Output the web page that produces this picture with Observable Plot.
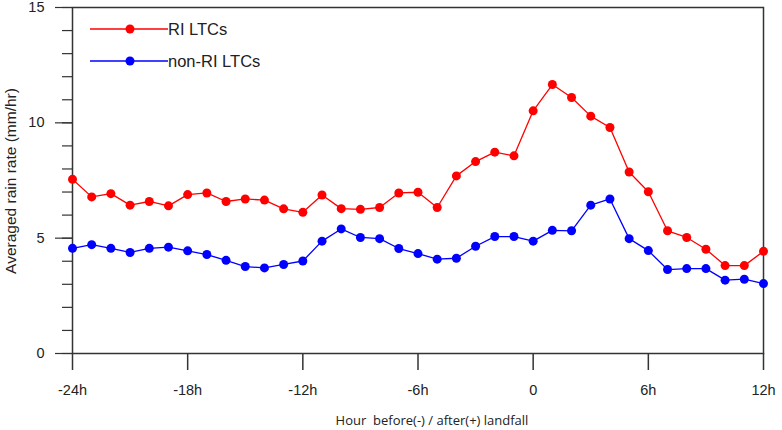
<!DOCTYPE html>
<html>
<head>
<meta charset="utf-8">
<script src="https://cdn.jsdelivr.net/npm/d3@7"></script>
<script src="https://cdn.jsdelivr.net/npm/@observablehq/plot@0.6"></script>
<style>
  html, body { margin: 0; padding: 0; background: #fff; }
  #chart svg { display: block; }
</style>
</head>
<body>
<div id="chart"></div>
<script>
const hours = [-24,-23,-22,-21,-20,-19,-18,-17,-16,-15,-14,-13,-12,-11,-10,-9,-8,-7,-6,-5,-4,-3,-2,-1,0,1,2,3,4,5,6,7,8,9,10,11,12];
const riLTCs = [7.55,6.79,6.93,6.43,6.59,6.40,6.89,6.96,6.59,6.70,6.65,6.27,6.12,6.87,6.28,6.25,6.33,6.96,6.99,6.33,7.70,8.32,8.73,8.57,10.52,11.66,11.10,10.29,9.80,7.87,7.01,5.32,5.03,4.52,3.81,3.81,4.43];
const nonRiLTCs = [4.56,4.72,4.56,4.38,4.56,4.61,4.45,4.29,4.04,3.77,3.71,3.86,4.01,4.87,5.40,5.03,4.98,4.55,4.33,4.09,4.13,4.65,5.07,5.07,4.87,5.34,5.32,6.43,6.70,4.98,4.46,3.64,3.68,3.68,3.18,3.22,3.03];
const xTicks = [-24,-18,-12,-6,0,6,12];
const xTickLabels = ["-24h","-18h","-12h","-6h","0","6h","12h"];
const yMajorTicks = [0,5,10,15];
const yMinorTicks = [0,1,2,3,4,5,6,7,8,9,10,11,12,13,14,15];
const seriesNames = ["RI LTCs","non-RI LTCs"];
const seriesColors = ["#ff0000","#0000ff"];

const red = hours.map((h,i) => ({hour: h, value: riLTCs[i]}));
const blue = hours.map((h,i) => ({hour: h, value: nonRiLTCs[i]}));

const font = "'Liberation Sans', Arial, Helvetica, sans-serif";

const chart = Plot.plot({
  width: 782,
  height: 430,
  marginLeft: 72,
  marginRight: 19,
  marginTop: 7,
  marginBottom: 77,
  style: {fontFamily: font, fontSize: "14px", color: "#222", background: "#fff"},
  x: {domain: [-24, 12]},
  y: {domain: [0, 15]},
  marks: [
    Plot.axisY(yMinorTicks, {tickSize: 10, text: null, stroke: "#333", strokeWidth: 1.2, label: null}),
    Plot.axisY(yMajorTicks, {tickSize: 17, tickPadding: 11, fontSize: 14.5, fill: "#222", stroke: "#333", strokeWidth: 1.2, label: null}),
    Plot.axisX(xTicks, {tickSize: 17, tickPadding: 14, fontSize: 14.5, fill: "#222", stroke: "#333", strokeWidth: 1.5,
      tickFormat: d => xTickLabels[xTicks.indexOf(d)], label: null}),
    Plot.frame({stroke: "#333", strokeWidth: 1.5}),
    Plot.line(red, {x: "hour", y: "value", stroke: seriesColors[0], strokeWidth: 1.3}),
    Plot.dot(red, {x: "hour", y: "value", fill: seriesColors[0], r: 4.5}),
    Plot.line(blue, {x: "hour", y: "value", stroke: seriesColors[1], strokeWidth: 1.3}),
    Plot.dot(blue, {x: "hour", y: "value", fill: seriesColors[1], r: 4.5})
  ]
});

const svg = d3.select(chart);
// Legend (inside plot, top-left)
const legendY = [29, 61];
seriesNames.forEach((name, i) => {
  const g = svg.append("g");
  g.append("line").attr("x1", 90).attr("x2", 168).attr("y1", legendY[i]).attr("y2", legendY[i])
    .attr("stroke", seriesColors[i]).attr("stroke-width", 1.3);
  g.append("circle").attr("cx", 130).attr("cy", legendY[i]).attr("r", 4.5).attr("fill", seriesColors[i]);
  g.append("text").attr("x", 168).attr("y", legendY[i]).attr("dy", "0.35em")
    .attr("text-anchor", "start")
    .attr("font-family", font).attr("font-size", 16.5).attr("fill", "#222").text(name);
});
// Axis titles
svg.append("text")
  .attr("transform", "translate(11,181) rotate(-90)")
  .attr("text-anchor", "middle").attr("dy", "0.35em")
  .attr("font-family", font).attr("font-size", 15.5).attr("fill", "#222")
  .text("Averaged rain rate (mm/hr)");
svg.append("text")
  .attr("x", 432).attr("y", 420).attr("dy", "0.35em")
  .attr("text-anchor", "middle")
  .attr("font-family", "'Open Sans', 'DejaVu Sans', sans-serif").attr("font-size", 13).attr("fill", "#222")
  .attr("xml:space", "preserve").style("white-space", "pre")
  .text("Hour  before(-) / after(+) landfall");

document.getElementById("chart").appendChild(chart);
</script>
</body>
</html>
